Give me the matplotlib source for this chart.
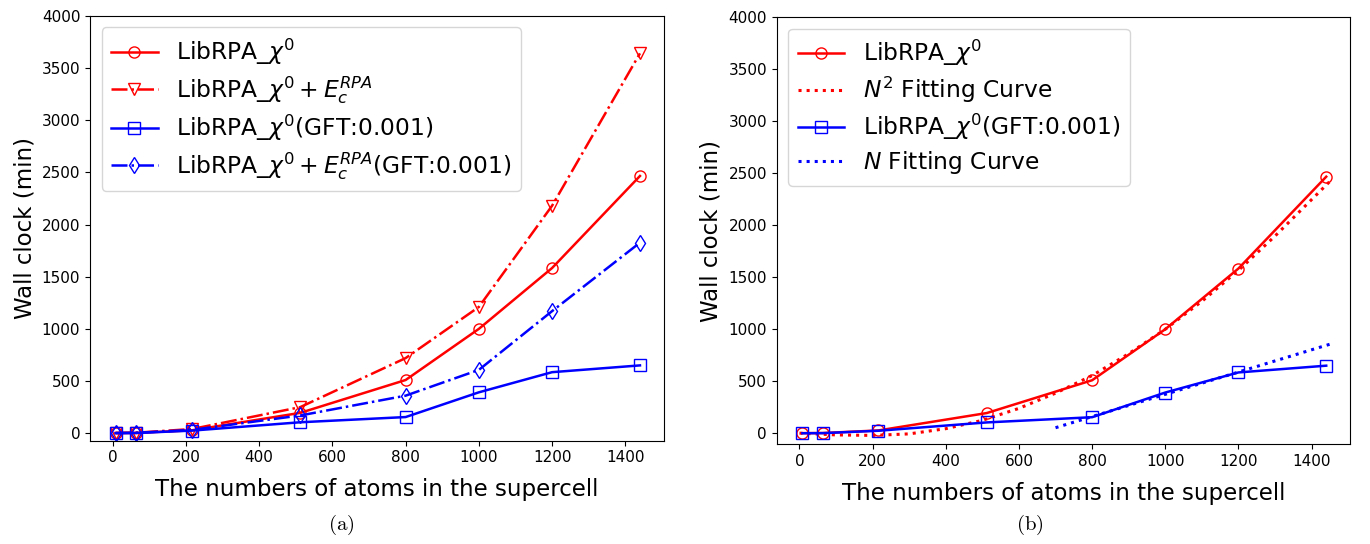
import matplotlib
matplotlib.use("Agg")
import matplotlib.pyplot as plt

# ---- data ----
atoms = [8, 64, 216, 512, 800, 1000, 1200, 1440]
chi0 = [2, 3, 28, 195, 510, 1000, 1583, 2465]
chi0_ec = [3, 5, 40, 250, 720, 1210, 2180, 3640]
chi0_gft = [1, 2, 25, 105, 155, 392, 585, 650]
chi0_ec_gft = [2, 4, 32, 170, 360, 607, 1170, 1826]

# fitting curves (b)
fit2_x = [0, 100, 200, 300, 400, 500, 600, 700, 800, 900, 1000, 1100, 1200, 1300, 1450]
fit2_y = [2, -15, -20, -5, 45, 125, 240, 386, 555, 765, 1000, 1268, 1565, 1895, 2420]
fit1_x = [700, 1450]
fit1_y = [54, 856]

xticks = [0, 200, 400, 600, 800, 1000, 1200, 1400]
yticks = [0, 500, 1000, 1500, 2000, 2500, 3000, 3500, 4000]

xlabel = "The numbers of atoms in the supercell"
ylabel = "Wall clock (min)"

fig = plt.figure(figsize=(13.7, 5.44), dpi=100)
ax1 = fig.add_axes([0.0657, 0.190, 0.4188, 0.781])
ax2 = fig.add_axes([0.567, 0.1833, 0.4184, 0.7857])

lw = 1.8
ms = 8

ax1.plot(atoms, chi0, '-', color='red', marker='o', mfc='none', ms=ms, lw=lw,
         label=r'LibRPA_$\chi^0$')
ax1.plot(atoms, chi0_ec, '-.', color='red', marker='v', mfc='none', ms=ms, lw=lw,
         label=r'LibRPA_$\chi^0+E_c^{RPA}$')
ax1.plot(atoms, chi0_gft, '-', color='blue', marker='s', mfc='none', ms=ms, lw=lw,
         label=r'LibRPA_$\chi^0$(GFT:0.001)')
ax1.plot(atoms, chi0_ec_gft, '-.', color='blue', marker='d', mfc='none', ms=ms, lw=lw,
         label=r'LibRPA_$\chi^0+E_c^{RPA}$(GFT:0.001)')

ax2.plot(atoms, chi0, '-', color='red', marker='o', mfc='none', ms=ms, lw=lw,
         label=r'LibRPA_$\chi^0$')
ax2.plot(fit2_x, fit2_y, ':', color='red', lw=2.2,
         label=r'$N^2$ Fitting Curve')
ax2.plot(atoms, chi0_gft, '-', color='blue', marker='s', mfc='none', ms=ms, lw=lw,
         label=r'LibRPA_$\chi^0$(GFT:0.001)')
ax2.plot(fit1_x, fit1_y, ':', color='blue', lw=2.2,
         label=r'$N$ Fitting Curve')

for ax, ybot in ((ax1, -71), (ax2, -105)):
    ax.set_xticks(xticks)
    ax.set_yticks(yticks)
    ax.set_xlim(-62, 1505)
    ax.set_ylim(ybot, 4000)
    ax.tick_params(labelsize=11)
    ax.set_xlabel(xlabel, fontsize=16.5, labelpad=9)
    ax.set_ylabel(ylabel, fontsize=16.5)
    ax.legend(loc='upper left', fontsize=16.8, borderaxespad=0.5,
              labelspacing=0.3)

fig.text(0.249, 0.035, r'$\mathrm{(a)}$', ha='center', va='center', fontsize=15,
         math_fontfamily='cm')
fig.text(0.752, 0.035, r'$\mathrm{(b)}$', ha='center', va='center', fontsize=15,
         math_fontfamily='cm')

fig.savefig("out.png", dpi=100)
